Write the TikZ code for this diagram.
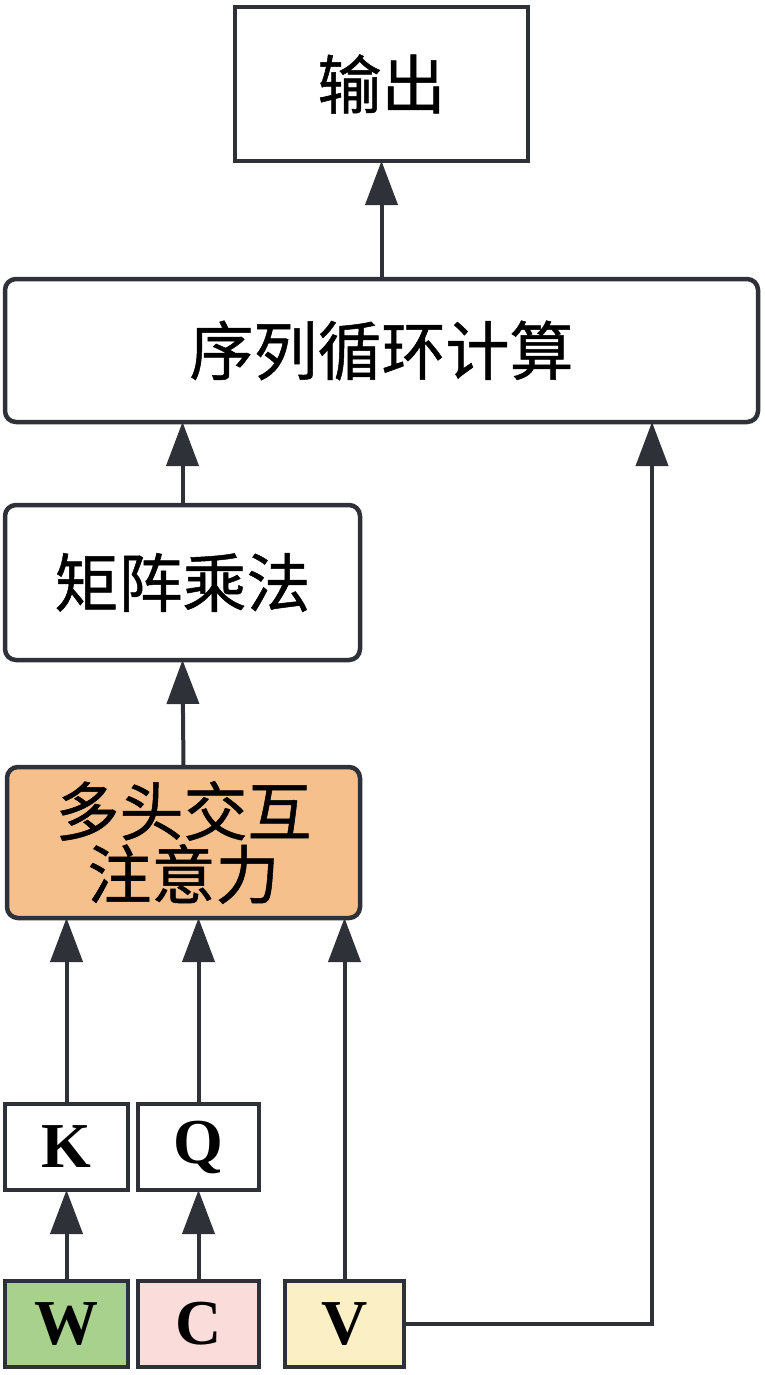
\documentclass[tikz,border=0pt]{standalone}
\usepackage{fontspec}
\newfontfamily\cjk[FakeBold=0.8]{Noto Sans CJK SC}
\newfontfamily\latinserif{Liberation Serif}
\usetikzlibrary{arrows.meta}
\definecolor{edge}{HTML}{2E3238}
\definecolor{orangefill}{HTML}{F5C08C}
\definecolor{greenfill}{HTML}{A9D18E}
\definecolor{pinkfill}{HTML}{FADCDA}
\definecolor{yellowfill}{HTML}{FBEFC6}
\tikzset{
  box/.style={draw=edge, line width=4.5pt, fill=white, inner sep=0pt, outer sep=0pt,
    font=\cjk\fontsize{64}{63}\selectfont, align=center},
  rbox/.style={box, rounded corners=11pt},
  letterbox/.style={draw=edge, line width=4.5pt, inner sep=0pt, outer sep=0pt,
    minimum width=123pt, minimum height=86pt, font=\latinserif\bfseries\fontsize{64}{64}\selectfont},
  arr/.style={draw=edge, line width=4pt, -{Triangle[length=44pt,width=32pt]}},
}
\begin{document}
\begin{tikzpicture}[x=1pt,y=-1pt]
\useasboundingbox[fill=white] (0,0) rectangle (764,1375);
\node[box, minimum width=293pt, minimum height=154pt] (out) at (381.5,84) {输出};
\node[rbox, minimum width=753pt, minimum height=143pt] (seq) at (381.5,350.5) {序列循环计算};
\node[rbox, minimum width=355pt, minimum height=155pt] (mat) at (182.5,582.5) {矩阵乘法};
\node[rbox, fill=orangefill, minimum width=353pt, minimum height=151pt] (mha) at (183.5,842.5) {多头交互\\注意力};
\node[letterbox, fill=white] (K) at (66.5,1147) {K};
\node[letterbox, fill=white, minimum width=121pt] (Q) at (198.5,1147) {Q};
\node[letterbox, fill=greenfill] (W) at (66.5,1324) {W};
\node[letterbox, fill=pinkfill, minimum width=121pt] (C) at (198.5,1324) {C};
\node[letterbox, fill=yellowfill, minimum width=119pt] (V) at (344.5,1324) {V};
\coordinate (vx) at (652,1324);
\draw[arr] (seq.north) -- (out.south);
\draw[arr] (mat.north) -- (mat.north |- seq.south);
\draw[arr] (mha.north) -- (mat.south);
\draw[arr] (K.north) -- (K.north |- mha.south);
\draw[arr] (Q.north) -- (Q.north |- mha.south);
\draw[arr] (V.north) -- (V.north |- mha.south);
\draw[arr] (W.north) -- (K.south);
\draw[arr] (C.north) -- (Q.south);
\draw[arr] (V.east) -- (vx) -- (vx |- seq.south);
\end{tikzpicture}
\end{document}
